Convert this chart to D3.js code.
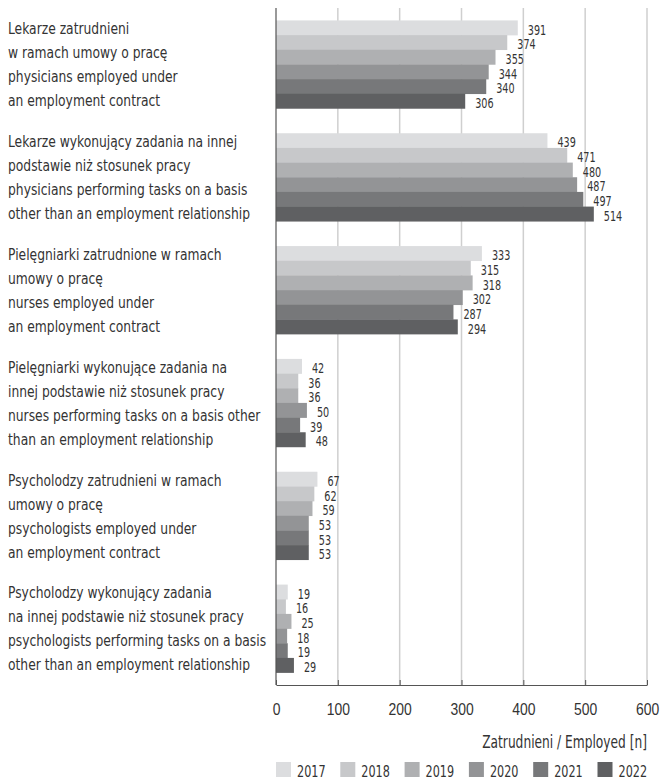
<!DOCTYPE html>
<html>
<head>
<meta charset="utf-8">
<script src="https://cdn.jsdelivr.net/npm/d3@7"></script>
<style>
  html, body { margin: 0; padding: 0; background: #fff; }
  svg { display: block; font-family: "DejaVu Sans Condensed", "Liberation Sans Narrow", sans-serif; }
</style>
</head>
<body>
<svg id="chart"></svg>
<script>
// ─── Data ─────────────────────────────────────────────────────────────────────
const YEARS = ['2017', '2018', '2019', '2020', '2021', '2022'];
const YEAR_COLORS = ['#dcdddf', '#c7c8ca', '#afb0b2', '#939496', '#77787a', '#5f6062'];

const CATEGORIES = [
  ['Lekarze zatrudnieni', 'w ramach umowy o pracę', 'physicians employed under', 'an employment contract'],
  ['Lekarze wykonujący zadania na innej', 'podstawie niż stosunek pracy', 'physicians performing tasks on a basis', 'other than an employment relationship'],
  ['Pielęgniarki zatrudnione w ramach', 'umowy o pracę', 'nurses employed under', 'an employment contract'],
  ['Pielęgniarki wykonujące zadania na', 'innej podstawie niż stosunek pracy', 'nurses performing tasks on a basis other', 'than an employment relationship'],
  ['Psycholodzy zatrudnieni w ramach', 'umowy o pracę', 'psychologists employed under', 'an employment contract'],
  ['Psycholodzy wykonujący zadania', 'na innej podstawie niż stosunek pracy', 'psychologists performing tasks on a basis', 'other than an employment relationship'],
];

// values per category, one per year 2017..2022
const VALUES = [
  [391, 374, 355, 344, 340, 306],
  [439, 471, 480, 487, 497, 514],
  [333, 315, 318, 302, 287, 294],
  [42, 36, 36, 50, 39, 48],
  [67, 62, 59, 53, 53, 53],
  [19, 16, 25, 18, 19, 29],
];

const X_TICKS = [0, 100, 200, 300, 400, 500, 600];
const X_TITLE = 'Zatrudnieni / Employed [n]';

// ─── Layout ───────────────────────────────────────────────────────────────────
const width = 668, height = 779;
const plot = { left: 276, right: 647, top: 8, bottom: 685 };
const TEXT = '#333';

const svg = d3.select('#chart').attr('width', width).attr('height', height);

// condensed text: the reference uses a narrow face, so squeeze horizontally
function label(parent, x, y, str, size, sx, anchor = 'start') {
  return parent.append('text')
    .attr('transform', `translate(${x},${y}) scale(${sx},1)`)
    .attr('text-anchor', anchor)
    .attr('font-size', size).attr('fill', TEXT)
    .text(str);
}

const x = d3.scaleLinear().domain([0, 600]).range([plot.left, plot.right]);
const y = d3.scaleBand().domain(d3.range(CATEGORIES.length))
  .range([plot.top, plot.bottom]).paddingInner(0.22).paddingOuter(0.11);
const yInner = d3.scaleBand().domain(YEARS).range([0, y.bandwidth()]).padding(0);

// Gridlines
svg.append('g').selectAll('line').data(X_TICKS.filter(d => d > 0)).join('line')
  .attr('x1', d => x(d)).attr('x2', d => x(d))
  .attr('y1', plot.top).attr('y2', plot.bottom)
  .attr('stroke', '#cfcfcf').attr('stroke-width', 1.5);

// Bars
const groups = svg.append('g').selectAll('g').data(VALUES).join('g')
  .attr('transform', (d, i) => `translate(0,${y(i)})`);

groups.selectAll('rect').data(d => d.map((v, j) => ({ v, year: YEARS[j], j }))).join('rect')
  .attr('x', x(0))
  .attr('y', d => yInner(d.year))
  .attr('width', d => x(d.v) - x(0))
  .attr('height', yInner.bandwidth() + 0.3)
  .attr('fill', d => YEAR_COLORS[d.j]);

// Value labels
groups.each(function(vals) {
  const g = d3.select(this);
  vals.forEach((v, j) => {
    label(g, x(v) + 10, yInner(YEARS[j]) + yInner.bandwidth() - 0.5, v, 14.5, 0.74);
  });
});

// Category labels
const lineH = 24;
svg.append('g').selectAll('text').data(CATEGORIES).join('text')
  .attr('transform', 'translate(8,0) scale(0.83,1)')
  .attr('font-size', 16.5).attr('fill', TEXT)
  .each(function(lines, i) {
    const cy = y(i) + y.bandwidth() / 2;
    const y0 = cy - (lines.length - 1) * lineH / 2;
    d3.select(this).selectAll('tspan').data(lines).join('tspan')
      .attr('x', 0)
      .attr('y', (d, k) => y0 + k * lineH)
      .attr('dy', '0.35em')
      .text(d => d);
  });

// Left axis line
svg.append('line')
  .attr('x1', plot.left).attr('x2', plot.left)
  .attr('y1', plot.top).attr('y2', plot.bottom)
  .attr('stroke', '#555').attr('stroke-width', 1.2);

// Bottom axis
const xAxis = svg.append('g').attr('transform', `translate(0,${plot.bottom})`)
  .call(d3.axisBottom(x).tickValues(X_TICKS).tickSizeInner(-5).tickSizeOuter(0).tickFormat(''));
xAxis.select('.domain').attr('stroke', '#555').attr('stroke-width', 1.2);
xAxis.selectAll('.tick line').attr('stroke', '#555');
xAxis.selectAll('.tick').each(function(d) {
  label(d3.select(this), 0, 30, d, 17, 0.82, 'middle');
});

// Axis title
label(svg, plot.right, 748, X_TITLE, 17, 0.8, 'end');

// Legend
const legend = svg.append('g').selectAll('g').data(YEARS).join('g')
  .attr('transform', (d, i) => `translate(${276 + i * 64.3},762)`);
legend.append('rect')
  .attr('width', 15).attr('height', 15)
  .attr('fill', (d, i) => YEAR_COLORS[i]);
legend.each(function(d) {
  label(d3.select(this), 21, 14.5, d, 16, 0.78);
});
</script>
</body>
</html>
